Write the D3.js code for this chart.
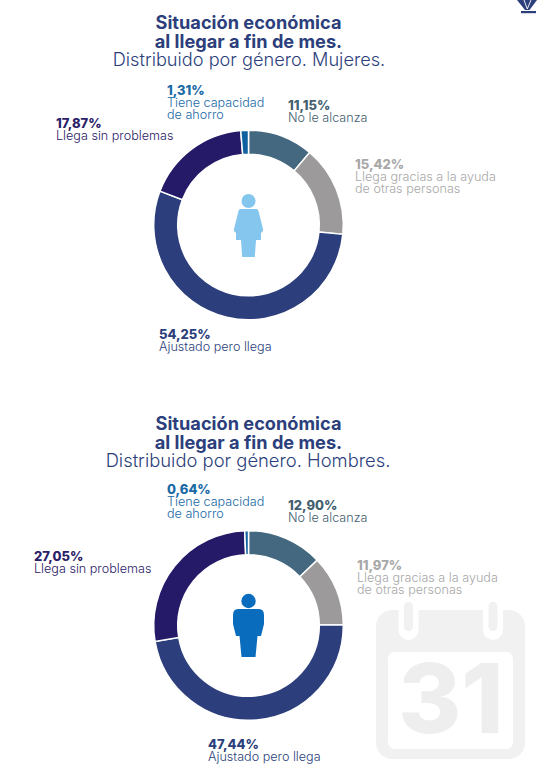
<!DOCTYPE html>
<html><head><meta charset="utf-8">
<script src="https://cdn.jsdelivr.net/npm/d3@7"></script>
<style>html,body{margin:0;padding:0;background:#fff}svg{display:block}text{font-family:Inter,"Open Sans",sans-serif}</style>
</head><body><div id="c"></div>
<script>
const categories = ["No le alcanza","Llega gracias a la ayuda de otras personas","Ajustado pero llega","Llega sin problemas","Tiene capacidad de ahorro"];
const mujeres = [11.15,15.42,54.25,17.87,1.31];
const hombres = [12.90,11.97,47.44,27.05,0.64];
const labelsMujeres = ["11,15%","15,42%","54,25%","17,87%","1,31%"];
const labelsHombres = ["12,90%","11,97%","47,44%","27,05%","0,64%"];
const labelLines = [["No le alcanza"],["Llega gracias a la ayuda","de otras personas"],["Ajustado pero llega"],["Llega sin problemas"],["Tiene capacidad","de ahorro"]];
const colors = ["#44687f","#9c9a9b","#2c3f7c","#241a68","#0f619f"];
const labelColors = ["#44606f","#a8a8a8","#2c3f7c","#2b2168","#1a6aa6"];
const posMujeres = [[288,110],[355,169],[159,339],[56,128],[167,95]];
const posHombres = [[288,510],[357,570],[208,749],[34,561],[167,494]];

const W=538,H=771;
const svg=d3.select("#c").append("svg").attr("width",W).attr("height",H);

function calendar(){
  const g=svg.append("g");
  const gc="#f1f1f1";
  g.append("rect").attr("x",376).attr("y",610).attr("width",149).attr("height",149).attr("rx",16).attr("fill",gc);
  g.append("rect").attr("x",388).attr("y",652).attr("width",125).attr("height",97).attr("rx",7).attr("fill","#fff");
  [408.5,493].forEach(x=>{
    g.append("rect").attr("x",x-10).attr("y",600).attr("width",20).attr("height",40).attr("rx",10).attr("fill","#fff");
    g.append("rect").attr("x",x-4.5).attr("y",602).attr("width",9).attr("height",29).attr("rx",4.5).attr("fill",gc);
  });
  g.append("text").attr("x",451).attr("y",733).attr("text-anchor","middle").attr("font-size",96).attr("font-weight",800).attr("fill","#eeeeee").text("31");
}
calendar();

function donut(cy,values,pcts,pos,sub){
  const t=svg.append("g").attr("text-anchor","middle").attr("fill","#2c3f7c");
  const top=cy-225;
  t.append("text").attr("x",248.5).attr("y",29+top).attr("font-size",18.2).attr("font-weight",700).text("Situación económica");
  t.append("text").attr("x",248.5).attr("y",48+top).attr("font-size",18.2).attr("font-weight",700).text("al llegar a fin de mes.");
  t.append("text").attr("x",sub.x).attr("y",66+top).attr("font-size",sub.size).attr("font-weight",300).text(sub.text);
  const pie=d3.pie().sort(null).value(d=>d)(values);
  const arc=d3.arc().innerRadius(70.8).outerRadius(94.8);
  svg.append("g").attr("transform",`translate(248.5,${cy})`).selectAll("path").data(pie).join("path")
    .attr("d",arc).attr("fill",(d,i)=>colors[i]).attr("stroke","#fff").attr("stroke-width",1.5);
  categories.forEach((c,i)=>{
    const g=svg.append("g").attr("fill",labelColors[i]);
    g.append("text").attr("x",pos[i][0]).attr("y",pos[i][1]).attr("font-size",13).attr("font-weight",800).text(pcts[i]);
    labelLines[i].forEach((l,j)=>g.append("text").attr("x",pos[i][0]).attr("y",pos[i][1]+12+12*j).attr("font-size",12.6).attr("font-weight",300).text(l));
  });
}
donut(225,mujeres,labelsMujeres,posMujeres,{x:249,size:18.2,text:"Distribuido por género. Mujeres."});
donut(625.5,hombres,labelsHombres,posHombres,{x:248,size:18.4,text:"Distribuido por género. Hombres."});

// iconos
const woman="M240.5 209H256.5Q258 209 258.5 211L263 229Q263.5 231 262 232L261 233V240H256L254.8 257H242.2L241 240H236V233L235 232Q233.5 231 234 229L238.5 211Q239 209 240.5 209Z";
svg.append("circle").attr("cx",248.5).attr("cy",201).attr("r",7).attr("fill","#85c6ef");
svg.append("path").attr("d",woman).attr("fill","#85c6ef");
const man="M238 609H259Q264 609 264 615V624L261 636H257.5L255.5 657H241.5L239.5 636H236L233 624V615Q233 609 238 609Z";
svg.append("circle").attr("cx",248.5).attr("cy",601).attr("r",7.2).attr("fill","#0a6cbd");
svg.append("path").attr("d",man).attr("fill","#0a6cbd");

// logo
svg.append("path").attr("d","M517 0H537L529.5 10H525Z").attr("fill","#2c3f7c");
svg.append("path").attr("d","M524 0L527.3 9L531 0").attr("fill","none").attr("stroke","#fff").attr("stroke-width",0.9);
svg.append("rect").attr("x",521).attr("y",11).attr("width",15).attr("height",2.2).attr("fill","#2c3f7c");
</script></body></html>
